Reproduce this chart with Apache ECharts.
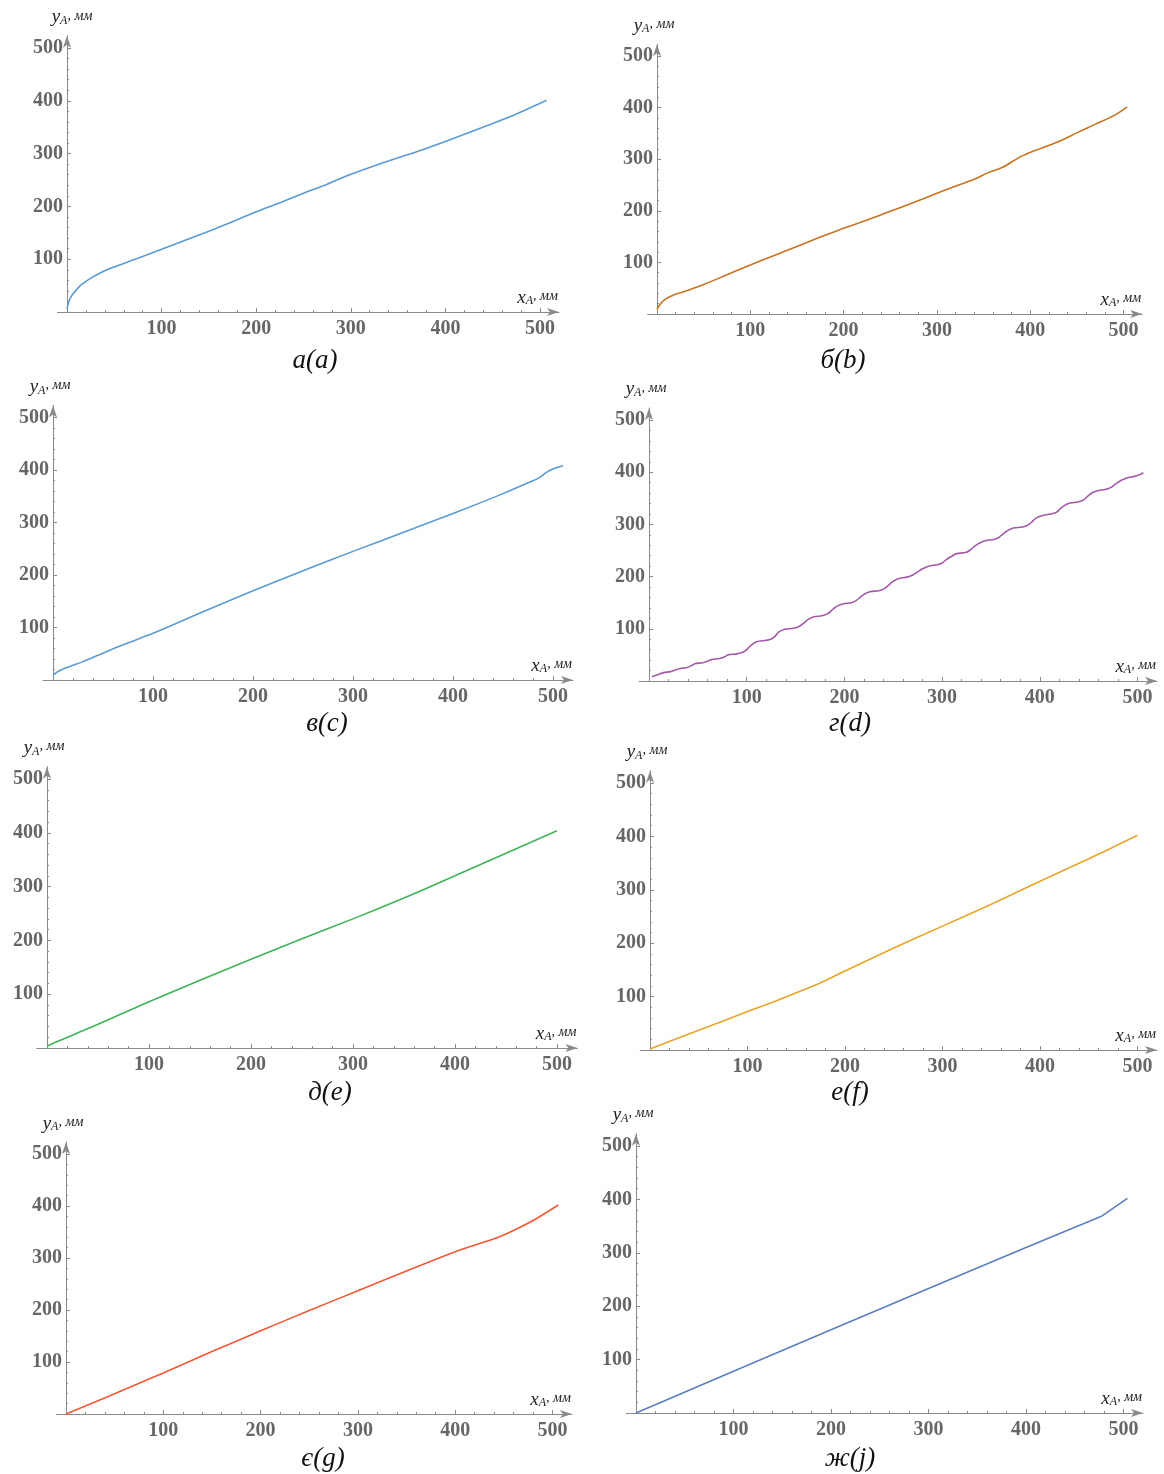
<!DOCTYPE html>
<html>
<head>
<meta charset="utf-8">
<title>y_A (x_A)</title>
<script src="https://cdn.jsdelivr.net/npm/echarts@6.0.0/dist/echarts.min.js"></script>
<style>
    html, body { margin: 0; padding: 0; background: #fff; }
    #chart { width: 1164px; height: 1474px; }
</style>
</head>
<body>
<div id="chart"></div>
<script>
// tick values (same for both axes of every panel)
const majorTicks = [100, 200, 300, 400, 500];
const minorTicks = [20, 40, 60, 80, 120, 140, 160, 180, 220, 240, 260, 280, 320, 340, 360, 380, 420, 440, 460, 480];

const captions = ['а(a)', 'б(b)', 'в(c)', 'г(d)', 'д(e)', 'е(f)', 'є(g)', 'ж(j)'];
const colors = ['#5b9bd5', '#c8731f', '#5a9bd4', '#a35aa8', '#3fb45a', '#e9a42a', '#ef5a35', '#5b7fbf'];

// а(a)
const xA = [0, 2, 5, 9, 14, 20, 27, 35, 46, 60, 75, 100, 125, 150, 175, 200, 225, 250, 275, 300, 325, 350, 375, 400, 425, 450, 475, 507];
const yA = [6, 20, 31, 40, 50, 58, 66, 74, 83, 92, 102, 119, 136, 153, 171, 190, 207, 225, 242, 261, 277, 292, 307, 323, 340, 357, 375, 401];
// б(b)
const xB = [0, 3, 7, 12, 18, 25, 35, 50, 75, 100, 125, 150, 175, 200, 225, 250, 275, 300, 325, 340, 355, 370, 390, 410, 430, 450, 470, 490, 504];
const yB = [9, 18, 26, 32, 37, 41, 47, 57, 76, 95, 113, 131, 149, 166, 182, 199, 216, 234, 251, 261, 274, 284, 305, 320, 334, 351, 368, 385, 401];
// в(c)
const xC = [0, 4, 9, 14, 20, 30, 45, 70, 100, 150, 200, 250, 300, 350, 400, 450, 478, 486, 493, 500, 510];
const yC = [9, 15, 20, 24, 28, 35, 47, 67, 89, 130, 170, 208, 245, 281, 317, 355, 378, 385, 395, 402, 408];
// г(d)
const xD = [3, 10, 15, 22, 27, 32, 38, 43, 47, 55, 60, 64, 72, 77, 81, 90, 96, 100, 104, 110, 116, 123, 128, 133, 139, 148, 154, 159, 163, 169, 177, 183, 188, 193, 199, 207, 212, 216, 220, 226, 235, 240, 245, 249, 255, 264, 270, 275, 280, 286, 296, 300, 304, 309, 315, 324, 329, 333, 338, 345, 353, 358, 362, 367, 373, 382, 388, 392, 396, 403, 411, 417, 421, 425, 431, 439, 445, 449, 454, 460, 467, 473, 478, 483, 489, 497, 502, 506];
const yD = [8, 13, 16, 18, 21, 24, 25.5, 29, 33, 35, 38, 41, 43, 46, 50, 52, 55, 60, 68, 75, 77, 79, 84, 94, 99, 101, 105, 112, 118, 123, 125, 129, 137, 144, 148, 150, 154, 160, 166, 171, 173, 176, 183, 190, 196, 199, 203, 209, 215, 220, 223, 226, 232, 238, 244, 246, 251, 258, 264, 269, 271, 275, 281, 288, 293, 295, 299, 305, 312, 317, 320, 323, 330, 336, 341, 343, 347, 354, 361, 365, 367, 371, 378, 384, 389, 392, 395, 399];
// д(e)
const xE = [0, 5, 15, 30, 50, 100, 150, 200, 250, 300, 350, 400, 450, 500];
const yE = [3, 8, 16, 28, 44, 86, 126, 165, 203, 240, 279, 320, 362, 404];
// е(f)
const xF = [0, 50, 100, 125, 150, 175, 200, 250, 300, 350, 400, 450, 500];
const yF = [2, 37, 72, 89, 107, 126, 148, 191, 232, 273, 316, 358, 402];
// є(g)
const xG = [0, 50, 100, 150, 200, 250, 300, 350, 400, 440, 460, 480, 506];
const yG = [0, 39, 79, 120, 160, 199, 237, 275, 312, 337, 353, 372, 402];
// ж(j)
const xJ = [0, 100, 200, 300, 400, 478, 504];
const yJ = [0, 78, 156, 233, 310, 369, 402];

const seriesX = [xA, xB, xC, xD, xE, xF, xG, xJ];
const seriesY = [yA, yB, yC, yD, yE, yF, yG, yJ];
const smoothing = [0.3, 0.3, 0.3, 0.3, 0.3, 0.3, 0.2, false];

// panel placement: origin in px, px per unit, caption centre, name shift
const panels = [
    {x0: 67, y0: 312, sx: 0.946, sy: 0.528, cx: 310, cy: 358, nl: 10, nr: 0},
    {x0: 657, y0: 314, sx: 0.933, sy: 0.516, cx: 838, cy: 358, nl: 0, nr: 6},
    {x0: 53, y0: 680, sx: 1.0, sy: 0.525, cx: 322, cy: 721, nl: 0, nr: 6},
    {x0: 649, y0: 681, sx: 0.977, sy: 0.522, cx: 845, cy: 721, nl: 0, nr: 6},
    {x0: 47, y0: 1048, sx: 1.02, sy: 0.538, cx: 325, cy: 1090, nl: 0, nr: 6},
    {x0: 650, y0: 1050, sx: 0.975, sy: 0.534, cx: 845, cy: 1090, nl: 0, nr: 6},
    {x0: 66, y0: 1414, sx: 0.973, sy: 0.52, cx: 318, cy: 1456, nl: 0, nr: 6},
    {x0: 636, y0: 1413, sx: 0.975, sy: 0.534, cx: 845, cy: 1456, nl: 0, nr: 6}
];

const X_MIN = -10, X_MAX = 520, Y_MAX = 523;
const SERIF = '"Liberation Serif", "Times New Roman", "DejaVu Serif", serif';
const axisGray = '#8a8a8a';

const nameRich = {
    v: {fontFamily: SERIF, fontStyle: 'italic', fontSize: 19, color: '#222', verticalAlign: 'top', lineHeight: 19},
    s: {fontFamily: SERIF, fontStyle: 'italic', fontSize: 12, color: '#222', verticalAlign: 'bottom', lineHeight: 13, padding: [10, 0, 0, 0]},
    u: {fontFamily: SERIF, fontStyle: 'italic', fontSize: 14, color: '#222', verticalAlign: 'top', lineHeight: 15, padding: [1, 0, 0, 0]}
};

const labelStyle = {
    fontFamily: SERIF,
    fontWeight: 'bold',
    fontSize: 20,
    color: '#666'
};

let grids = [], xAxes = [], yAxes = [], series = [], titles = [];

panels.forEach(function (p, i) {
    grids.push({
        left: p.x0 + X_MIN * p.sx,
        top: p.y0 - Y_MAX * p.sy,
        width: (X_MAX - X_MIN) * p.sx,
        height: Y_MAX * p.sy,
        containLabel: false
    });

    // main x axis: line, arrow, labels, major ticks
    xAxes.push({
        gridIndex: i, type: 'value', min: X_MIN, max: X_MAX, position: 'bottom',
        name: '{v|x}{s|A}{u|, мм}',
        nameLocation: 'end',
        nameGap: -1,
        nameMoveOverlap: false,
        nameTextStyle: {align: 'right', verticalAlign: 'bottom', padding: [0, 0, 5, 0], rich: nameRich},
        axisLine: {onZero: true, symbol: ['none', 'arrow'], symbolSize: [6, 12], lineStyle: {color: axisGray, width: 1}},
        axisTick: {inside: true, length: 4, customValues: majorTicks, lineStyle: {color: axisGray}},
        axisLabel: Object.assign({customValues: majorTicks, margin: 7}, labelStyle),
        splitLine: {show: false}
    });
    // minor x ticks
    xAxes.push({
        gridIndex: i, type: 'value', min: X_MIN, max: X_MAX, position: 'bottom',
        axisLine: {show: false, onZero: true},
        axisTick: {inside: true, length: 2, customValues: minorTicks, lineStyle: {color: axisGray}},
        axisLabel: {show: false},
        splitLine: {show: false}
    });

    yAxes.push({
        gridIndex: i, type: 'value', min: 0, max: Y_MAX, position: 'left',
        name: '{v|y}{s|A}{u|, мм}',
        nameLocation: 'end',
        nameGap: 9,
        nameMoveOverlap: false,
        nameTextStyle: {align: 'center', verticalAlign: 'bottom', padding: [0, p.nr, 0, p.nl], rich: nameRich},
        axisLine: {onZero: true, symbol: ['none', 'arrow'], symbolSize: [6, 12], lineStyle: {color: axisGray, width: 1}},
        axisTick: {inside: true, length: 4, customValues: majorTicks, lineStyle: {color: axisGray}},
        // labels sit at the grid edge, pull them back next to the axis line
        axisLabel: Object.assign({customValues: majorTicks, margin: 4 + X_MIN * p.sx}, labelStyle),
        splitLine: {show: false}
    });
    yAxes.push({
        gridIndex: i, type: 'value', min: 0, max: Y_MAX, position: 'left',
        axisLine: {show: false, onZero: true},
        axisTick: {inside: true, length: 2, customValues: minorTicks, lineStyle: {color: axisGray}},
        axisLabel: {show: false},
        splitLine: {show: false}
    });

    series.push({
        type: 'line',
        xAxisIndex: 2 * i,
        yAxisIndex: 2 * i,
        data: seriesX[i].map(function (x, k) { return [x, seriesY[i][k]]; }),
        showSymbol: false,
        smooth: smoothing[i],
        lineStyle: {color: colors[i], width: 1.6},
        itemStyle: {color: colors[i]},
        silent: true
    });

    titles.push({
        text: captions[i],
        left: p.cx,
        top: p.cy - 16,
        textAlign: 'center',
        textStyle: {fontFamily: SERIF, fontStyle: 'italic', fontWeight: 'normal', fontSize: 27, color: '#111'}
    });
});

let chart = echarts.init(document.getElementById('chart'));
chart.setOption({
    backgroundColor: '#fff',
    animation: false,
    title: titles,
    grid: grids,
    xAxis: xAxes,
    yAxis: yAxes,
    series: series
});

window.addEventListener('resize', function () {
    chart.resize();
});
</script>
</body>
</html>
